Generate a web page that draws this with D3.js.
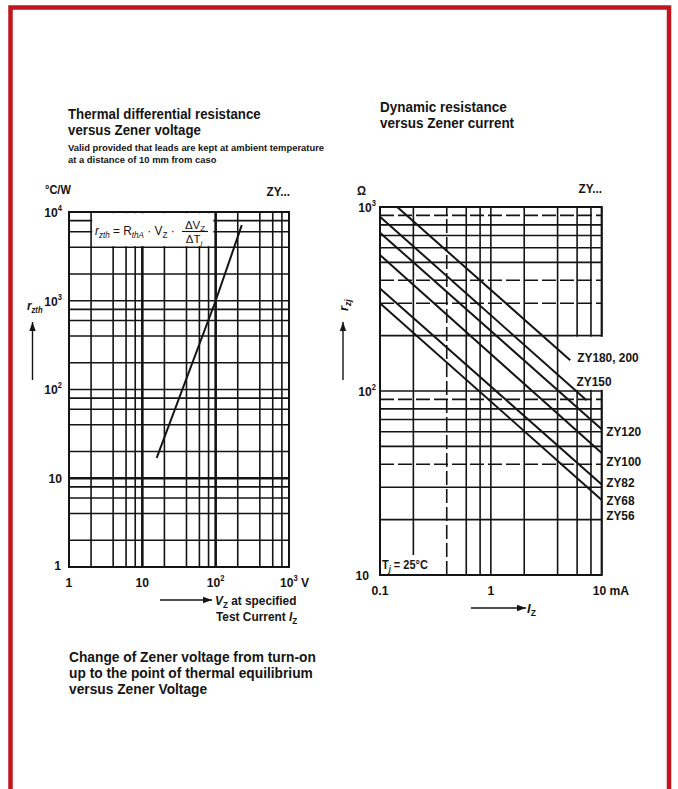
<!DOCTYPE html>
<html>
<head>
<meta charset="utf-8">
<script src="https://cdn.jsdelivr.net/npm/d3@7"></script>
<style>
  body { margin: 0; background: #fff; }
  svg { display: block; }
  text { font-family: "Liberation Sans Narrow", "Arial Narrow", "Liberation Sans", Arial, sans-serif; fill: #141414; font-weight: bold; }
</style>
</head>
<body>
<svg id="chart" width="678" height="789"></svg>
<script>
// ---- left chart: thermal differential resistance vs Zener voltage
const vzTicks = [1, 10, 100, 1000];
const vzTickLabels = ["1", "10", "10^2", "10^3 V"];
const rzthTicks = [1, 10, 100, 1000, 10000];
const rzthTickLabels = ["1", "10", "10^2", "10^3", "10^4"];
const curveVz = [15.7, 100, 227];
const curveRzth = [17, 1000, 7100];

// ---- right chart: dynamic resistance vs Zener current
const izTicks = [0.1, 1, 10];
const izTickLabels = ["0.1", "1", "10 mA"];
const rzjTicks = [10, 100, 1000];
const rzjTickLabels = ["10", "10^2", "10^3"];
const zyNames = ["ZY180, 200", "ZY150", "ZY120", "ZY100", "ZY82", "ZY68"];
const izFrom = [0.143, 0.1, 0.1, 0.1, 0.1, 0.1];
const rzFrom = [1000, 886, 725, 548, 361, 300];
const izTo = [5.2, 7.3, 10, 10, 10, 10];
const rzTo = [147, 89, 62, 46, 31, 25.6];
const extraName = "ZY56";

const svg = d3.select("#chart");
const ink = "#141414";

// red frame
svg.append("rect")
  .attr("x", 10.5).attr("y", 7.5)
  .attr("width", 658.5).attr("height", 820)
  .attr("fill", "none")
  .attr("stroke", "#c0161e")
  .attr("stroke-width", 4.5);

// squeeze a text horizontally around its anchor point (no narrow font installed)
function condense(t, k) {
  const x = +t.attr("x"), y = +t.attr("y");
  t.attr("transform", `translate(${x},${y}) scale(${k},1) translate(${-x},${-y})`);
  return t;
}

// helper: text with optional "^sup" part
function label(g, x, y, str, anchor, size, k) {
  const t = g.append("text").attr("x", x).attr("y", y)
    .attr("text-anchor", anchor || "start")
    .style("font-size", (size || 13) + "px");
  const m = str.match(/^([^^]*)\^(\S+)(.*)$/);
  if (!m) t.text(str);
  else {
    t.append("tspan").text(m[1]);
    t.append("tspan").attr("dy", -6).style("font-size", (size || 13) * 0.62 + "px").text(m[2]);
    if (m[3]) t.append("tspan").attr("dy", 6).text(m[3]);
  }
  return condense(t, k || 0.9);
}

// multi-line block as one text element
function block(g, x, y, lines, size, k, lh) {
  const t = g.append("text").attr("x", x).attr("y", y).style("font-size", size + "px");
  lines.forEach((s, i) => t.append("tspan").attr("x", x).attr("dy", i ? lh : 0).text(s));
  return condense(t, k);
}

function gridValues(lo, hi, mults) {
  const out = [];
  for (let e = lo; e < hi; e++) mults.forEach(m => out.push(+(m * Math.pow(10, e)).toPrecision(3)));
  out.push(Math.pow(10, hi));
  return out;
}

function arrow(g, x1, y1, x2, y2) {
  g.append("line").attr("x1", x1).attr("y1", y1).attr("x2", x2).attr("y2", y2)
    .attr("stroke", ink).attr("stroke-width", 1.4);
  const a = Math.atan2(y2 - y1, x2 - x1), L = 9, W = 3.2;
  const p = [[x2, y2],
    [x2 - L * Math.cos(a) + W * Math.sin(a), y2 - L * Math.sin(a) - W * Math.cos(a)],
    [x2 - L * Math.cos(a) - W * Math.sin(a), y2 - L * Math.sin(a) + W * Math.cos(a)]];
  g.append("path").attr("d", "M" + p.join("L") + "Z").attr("fill", ink);
}

// ================= left chart =================
const xL = d3.scaleLog().domain([1, 1000]).range([69, 289]);
const yL = d3.scaleLog().domain([1, 10000]).range([567, 212]);
const gL = svg.append("g");

const xLgrid = gridValues(0, 3, [1, 2, 4, 6, 8]);
const yLgrid = gridValues(0, 4, [1, 2, 4, 6, 8]);

gL.selectAll(".vg").data(xLgrid).enter().append("line")
  .attr("x1", d => xL(d)).attr("x2", d => xL(d))
  .attr("y1", yL(1)).attr("y2", yL(10000))
  .attr("stroke", ink)
  .attr("stroke-width", d => (d === 10 || d === 100) ? 2.6 : 1.6);

gL.selectAll(".hg").data(yLgrid).enter().append("line")
  .attr("y1", d => yL(d)).attr("y2", d => yL(d))
  .attr("x1", xL(1)).attr("x2", xL(1000))
  .attr("stroke", ink)
  .attr("stroke-width", d => d === 10 ? 2.6 : 1.6);

// formula box
gL.append("rect")
  .attr("x", xL(2) + 1.2).attr("y", yL(10000) + 1.2)
  .attr("width", xL(100) - xL(2) - 3.5)
  .attr("height", yL(4000) - yL(10000) - 2.4)
  .attr("fill", "#fff");

gL.append("rect")
  .attr("x", xL(1)).attr("y", yL(10000))
  .attr("width", xL(1000) - xL(1)).attr("height", yL(1) - yL(10000))
  .attr("fill", "none").attr("stroke", ink).attr("stroke-width", 2);

// curve
const leftPts = curveVz.map((v, i) => ({ v: v, r: curveRzth[i] }));
gL.append("path")
  .datum(leftPts)
  .attr("d", d3.line().x(d => xL(d.v)).y(d => yL(d.r)))
  .attr("fill", "none").attr("stroke", ink).attr("stroke-width", 2);

// formula text
const f = gL.append("text").attr("x", 95).attr("y", 235).style("font-size", "12.5px").style("font-weight", "normal");
f.append("tspan").style("font-style", "italic").text("r");
f.append("tspan").attr("dy", 3).style("font-size", "8.5px").style("font-style", "italic").text("zth");
f.append("tspan").attr("dy", -3).text(" = R");
f.append("tspan").attr("dy", 3).style("font-size", "8.5px").style("font-style", "italic").text("thA");
f.append("tspan").attr("dy", -3).text(" \u00b7 V");
f.append("tspan").attr("dy", 3).style("font-size", "8.5px").text("Z");
f.append("tspan").attr("dy", -3).text(" \u00b7");
condense(f, 0.95);
const fn = gL.append("text").attr("x", 195).attr("y", 228.5).attr("text-anchor", "middle").style("font-size", "11.5px").style("font-weight", "normal");
fn.append("tspan").text("\u0394V");
fn.append("tspan").attr("dy", 2.5).style("font-size", "8px").text("Z");
const fd = gL.append("text").attr("x", 194).attr("y", 243).attr("text-anchor", "middle").style("font-size", "11.5px").style("font-weight", "normal");
fd.append("tspan").text("\u0394T");
fd.append("tspan").attr("dy", 2.5).style("font-size", "8px").style("font-style", "italic").text("j");
gL.append("line").attr("x1", 182).attr("x2", 208).attr("y1", 231.5).attr("y2", 231.5)
  .attr("stroke", ink).attr("stroke-width", 1.1);

// tick labels
vzTicks.forEach((v, i) => {
  const anchor = i === 3 ? "start" : "middle";
  label(gL, i === 3 ? xL(v) - 9 : xL(v), 587, vzTickLabels[i], anchor, 13.5);
});
rzthTicks.forEach((v, i) => {
  label(gL, i === 0 ? 61 : 62, yL(v) + (i === 0 ? 3 : 5), rzthTickLabels[i], "end", 13.5);
});

// titles & units
block(gL, 68, 119.5, ["Thermal differential resistance", "versus Zener voltage"], 14, 0.95, 15.8);
block(gL, 68, 151, ["Valid provided that leads are kept at ambient temperature",
                    "at a distance of 10 mm from caso"], 9.6, 0.98, 12);
label(gL, 45, 194, "\u00b0C/W", "start", 13, 0.85);
label(gL, 290, 196, "ZY...", "end", 13);

// y label r_zth + arrow
const yl = gL.append("text").attr("x", 27).attr("y", 310).style("font-size", "13px");
yl.append("tspan").style("font-style", "italic").text("r");
yl.append("tspan").attr("dy", 3).style("font-size", "8.5px").style("font-style", "italic").text("zth");
condense(yl, 0.9);
arrow(gL, 32.5, 380, 32.5, 322);

// x label
arrow(gL, 160, 600, 212, 600);
const xl1 = gL.append("text").attr("x", 215).attr("y", 605).style("font-size", "12.5px");
xl1.append("tspan").style("font-style", "italic").text("V");
xl1.append("tspan").attr("dy", 3).style("font-size", "8.5px").text("Z");
xl1.append("tspan").attr("dy", -3).text(" at specified");
condense(xl1, 0.95);
const xl2 = gL.append("text").attr("x", 216).attr("y", 621).style("font-size", "12.5px");
xl2.append("tspan").text("Test Current ");
xl2.append("tspan").style("font-style", "italic").text("I");
xl2.append("tspan").attr("dy", 3).style("font-size", "8.5px").text("Z");
condense(xl2, 0.95);

// caption
block(gL, 69, 662, ["Change of Zener voltage from turn-on",
                    "up to the point of thermal equilibrium",
                    "versus Zener Voltage"], 14.5, 0.95, 16.2);

// ================= right chart =================
const xR = d3.scaleLog().domain([0.1, 10]).range([380, 601.7]);
const yR = d3.scaleLog().domain([10, 1000]).range([575, 207]);
const gR = svg.append("g");

const xRgrid = gridValues(-1, 1, [1, 2, 4, 6, 8]);
const yRgrid = gridValues(1, 3, [1, 2, 3, 4, 5, 6, 7, 8, 9]);
const xRdashed = [0.4];
const yRdashed = [900, 400, 300, 90, 40];

gR.selectAll(".vg").data(xRgrid).enter().append("line")
  .attr("x1", d => xR(d)).attr("x2", d => xR(d))
  .attr("y1", yR(10)).attr("y2", yR(1000))
  .attr("stroke", ink).attr("stroke-width", 1.6)
  .attr("stroke-dasharray", d => xRdashed.includes(d) ? "14,4" : null);

gR.selectAll(".hg").data(yRgrid).enter().append("line")
  .attr("y1", d => yR(d)).attr("y2", d => yR(d))
  .attr("x1", xR(0.1)).attr("x2", xR(10))
  .attr("stroke", ink).attr("stroke-width", 1.6)
  .attr("stroke-dasharray", d => yRdashed.includes(d) ? "14,4" : null);

gR.append("rect")
  .attr("x", xR(0.1)).attr("y", yR(1000))
  .attr("width", xR(10) - xR(0.1)).attr("height", yR(10) - yR(1000))
  .attr("fill", "none").attr("stroke", ink).attr("stroke-width", 2);

// T_j box and label clearing inside the plot
gR.append("rect").attr("x", xR(0.1) + 1).attr("y", 555)
  .attr("width", 56).attr("height", yR(10) - 555 - 1).attr("fill", "#fff");
gR.append("rect").attr("x", 573).attr("y", yR(200) + 1.2)
  .attr("width", xR(10) - 573 + 2).attr("height", yR(100) - yR(200) - 2.4).attr("fill", "#fff");

const rightSeries = zyNames.map((n, i) => ({
  name: n,
  pts: [{ i: izFrom[i], r: rzFrom[i] }, { i: izTo[i], r: rzTo[i] }]
}));
const lineR = d3.line().x(d => xR(d.i)).y(d => yR(d.r));
gR.selectAll(".zy").data(rightSeries).enter().append("path")
  .attr("d", d => lineR(d.pts))
  .attr("fill", "none").attr("stroke", ink).attr("stroke-width", 2);

// series labels (offsets from line ends)
const labelDx = [7, -10, 4.5, 4.5, 4.5, 4.5];
const labelDy = [2, -14, 7, 12.7, 2, 5.5];
rightSeries.forEach((s, i) => {
  const e = s.pts[1];
  label(gR, xR(e.i) + labelDx[i], yR(e.r) + labelDy[i], s.name, "start", 13.5, 0.88);
});
label(gR, xR(izTo[5]) + labelDx[5], yR(rzTo[5]) + labelDy[5] + 14.5, extraName, "start", 13.5, 0.88);

// T_j label
const tj = gR.append("text").attr("x", 382).attr("y", 569).style("font-size", "12.5px");
tj.append("tspan").text("T");
tj.append("tspan").attr("dy", 3).style("font-size", "8.5px").style("font-style", "italic").text("j");
tj.append("tspan").attr("dy", -3).text(" = 25\u00b0C");
condense(tj, 0.88);

// ticks
izTicks.forEach((v, i) => {
  label(gR, i === 2 ? xR(v) - 9 : xR(v), 595, izTickLabels[i], i === 2 ? "start" : "middle", 13.5);
});
rzjTicks.forEach((v, i) => {
  label(gR, i === 0 ? 369 : 376, yR(v) + 5, rzjTickLabels[i], "end", 13.5);
});

// titles & units
block(gR, 380, 112, ["Dynamic resistance", "versus Zener current"], 15, 0.9, 16.5);
label(gR, 357, 195, "\u03a9", "start", 12.5);
label(gR, 602, 193, "ZY...", "end", 13);

// y label (rotated) + arrow
const ry = gR.append("text").attr("transform", "translate(348,311) rotate(-90)").style("font-size", "13px");
ry.append("tspan").style("font-style", "italic").text("r");
ry.append("tspan").attr("dy", 3).style("font-size", "8.5px").style("font-style", "italic").text("zj");
arrow(gR, 343, 380, 343, 322);

// x label
arrow(gR, 471, 608, 526, 608);
const rx = gR.append("text").attr("x", 527).attr("y", 613).style("font-size", "13px");
rx.append("tspan").style("font-style", "italic").text("I");
rx.append("tspan").attr("dy", 3).style("font-size", "8.5px").text("Z");
</script>
</body>
</html>
